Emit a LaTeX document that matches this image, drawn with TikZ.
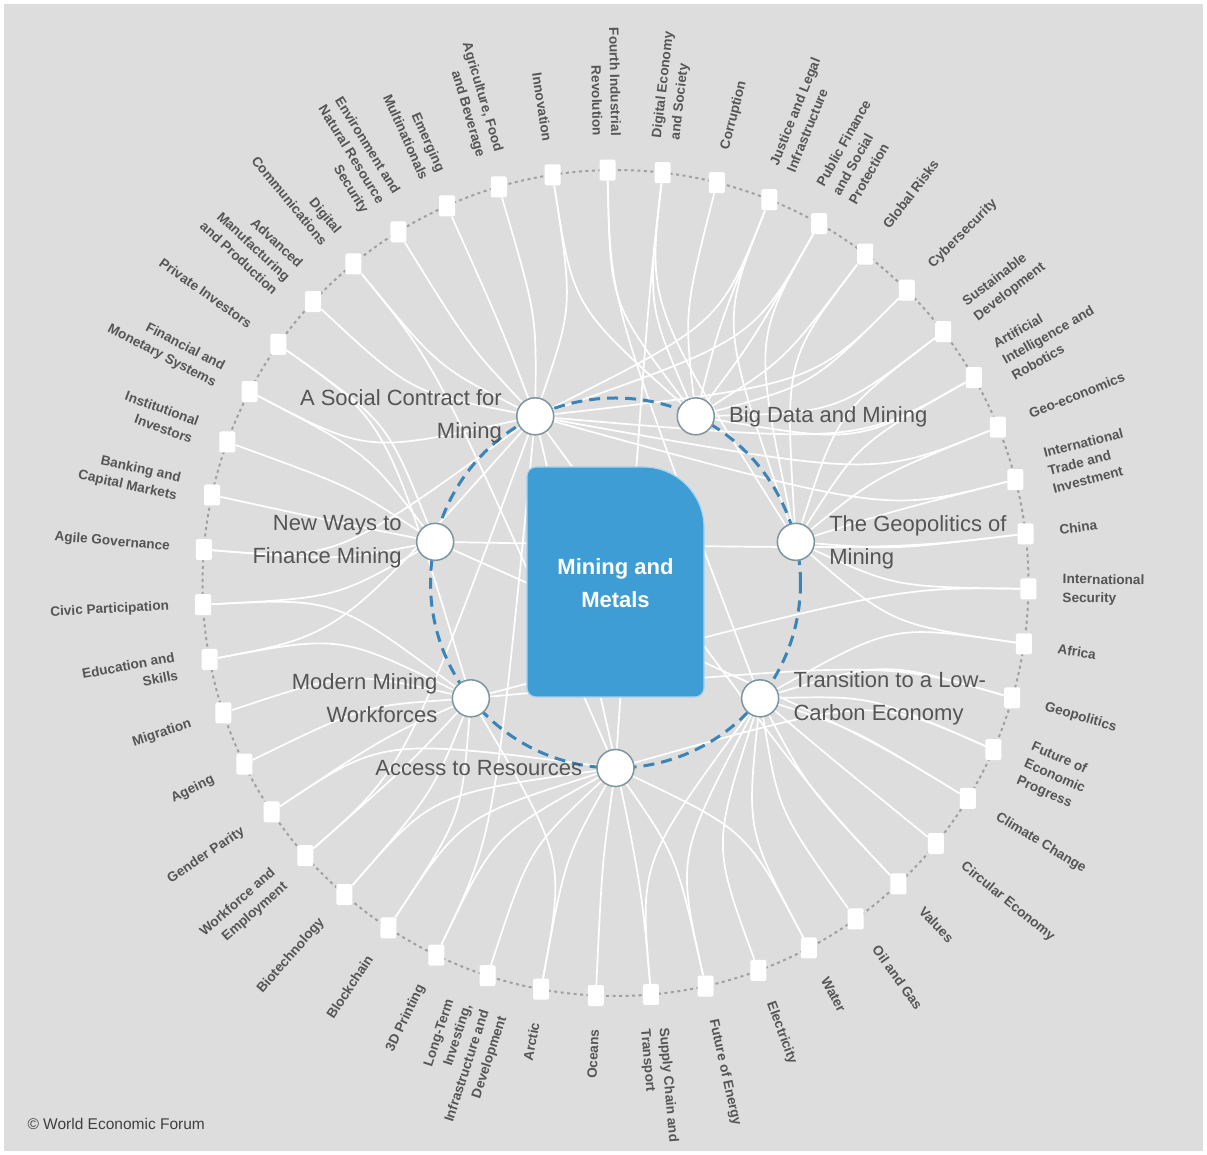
\documentclass[tikz,border=0pt]{standalone}
\usepackage{fontspec}
\setmainfont{Liberation Sans}
\usetikzlibrary{positioning}

\definecolor{paper}{RGB}{221,221,221}
\definecolor{ink}{RGB}{85,85,85}
\definecolor{rimgray}{RGB}{125,150,158}
\definecolor{ringblue}{RGB}{58,132,184}
\definecolor{boxblue}{RGB}{62,157,213}
\definecolor{dotgray}{RGB}{160,160,160}

\pgfdeclarelayer{back}
\pgfdeclarelayer{links}
\pgfsetlayers{back,links,main}

\tikzset{
  topic/.style={fill=white, minimum width=16pt, minimum height=21pt, inner sep=0pt, rounded corners=2pt},
  topiclabel/.style={font=\bfseries\fontsize{13.6}{18.5}\selectfont, text=ink, inner sep=1pt},
  hub/.style={circle, fill=white, draw=rimgray, line width=1.5pt, minimum size=37pt, inner sep=0pt},
  hublabel/.style={font=\fontsize{22}{33}\selectfont, text=ink, inner sep=0pt},
  link/.style={white, line width=1.7pt},
}

\begin{document}
\begin{tikzpicture}[x=1pt, y=1pt]
  % page, frame and the outer dotted ring
  \begin{pgfonlayer}{back}
    \fill[white] (-615.5,-572) rectangle (591.5,583);
    \fill[paper] (-611.5,-568) rectangle (587.5,579);
    \draw[dotgray, line width=2pt, dash pattern=on 3pt off 3.5pt] (0,0) circle (413);
  \end{pgfonlayer}
  \useasboundingbox (-615.5,-572) rectangle (591.5,583);

  % key issues on the inner ring
  \draw[ringblue, line width=3pt, dash pattern=on 11pt off 7pt] (0,0) circle (185);
  \foreach \name [count=\k from 0] in {ar,lc,geo,bd,sc,fin,wf}
    \node[hub] (\name) at (-90+\k*51.4286:185) {};

  \node[hublabel, left=14pt of sc, align=right] (scl) {A Social Contract for\\Mining};
  \node[hublabel, right=14pt of bd] (bdl) {Big Data and Mining};
  \node[hublabel, right=14pt of geo, align=left] (geol) {The Geopolitics of\\Mining};
  \node[hublabel, right=14pt of lc, align=left] (lcl) {Transition to a Low-\\Carbon Economy};
  \node[hublabel, left=14pt of ar] (arl) {Access to Resources};
  \node[hublabel, left=14pt of wf, align=right] (wfl) {Modern Mining\\Workforces};
  \node[hublabel, left=14pt of fin, align=right] (finl) {New Ways to\\Finance Mining};

  % industry block in the middle
  \fill[boxblue, draw=boxblue!45!white, line width=1.2pt]
    (-88.5,-105) -- (-88.5,107) arc (180:90:9) -- (28,116) arc (90:0:60.5)
    -- (88.5,-105) arc (0:-90:9) -- (-79.5,-114) arc (270:180:9) -- cycle;
  \node[font=\bfseries\fontsize{22}{33}\selectfont, text=white, align=center] (core) at (0,0) {Mining and\\Metals};

  % outer topics, clockwise from the top
  \foreach \txt [count=\i from 0] in {
    {Fourth Industrial\\Revolution}, {Digital Economy\\and Society}, {Corruption},
    {Justice and Legal\\Infrastructure}, {Public Finance\\and Social\\Protection},
    {Global Risks}, {Cybersecurity}, {Sustainable\\Development},
    {Artificial\\Intelligence and\\Robotics}, {Geo-economics},
    {International\\Trade and\\Investment}, {China}, {International\\Security},
    {Africa}, {Geopolitics}, {Future of\\Economic\\Progress}, {Climate Change},
    {Circular Economy}, {Values}, {Oil and Gas}, {Water}, {Electricity},
    {Future of Energy}, {Supply Chain and\\Transport}, {Oceans}, {Arctic},
    {Long-Term\\Investing,\\Infrastructure and\\Development}, {3D Printing},
    {Blockchain}, {Biotechnology}, {Workforce and\\Employment}, {Gender Parity},
    {Ageing}, {Migration}, {Education and\\Skills}, {Civic Participation},
    {Agile Governance}, {Banking and\\Capital Markets}, {Institutional\\Investors},
    {Financial and\\Monetary Systems}, {Private Investors},
    {Advanced\\Manufacturing\\and Production}, {Digital\\Communications},
    {Environment and\\Natural Resource\\Security}, {Emerging\\Multinationals},
    {Agriculture, Food\\and Beverage}, {Innovation}}{
    \pgfmathsetmacro\a{91.1-\i*7.65957}
    \pgfmathsetmacro\b{\a+180}
    \pgfmathtruncatemacro\east{cos(\a)>0}
    \node[topic] (q\i) at (\a:413) {};
    \ifnum\east=1
      \node[topiclabel, rotate=\a, anchor=west, align=left] (t\i) at (\a:446) {\txt};
    \else
      \node[topiclabel, rotate=\b, anchor=east, align=right] (t\i) at (\a:446) {\txt};
    \fi
  }

  % links from the key issues out to the topics
  \begin{pgfonlayer}{links}
    \foreach \i/\h in {0/bd,0/lc,1/bd,1/geo,1/ar,2/bd,3/sc,3/bd,3/geo,4/sc,4/bd,4/geo,
      5/bd,5/geo,6/bd,6/sc,7/bd,7/geo,8/bd,8/geo,8/sc,9/geo,9/sc,10/geo,10/sc,
      11/geo,11/fin,12/geo,12/wf,13/geo,13/lc,14/lc,14/wf,15/lc,15/ar,16/lc,16/fin,
      17/lc,18/lc,18/sc,19/lc,20/lc,20/ar,21/lc,22/lc,22/ar,23/lc,23/sc,24/ar,
      25/ar,25/wf,26/ar,27/ar,27/sc,28/ar,28/wf,29/ar,29/wf,30/wf,30/sc,31/wf,31/ar,
      32/wf,33/wf,34/wf,34/sc,35/fin,35/wf,36/fin,36/sc,37/fin,38/fin,39/fin,39/sc,
      40/fin,40/wf,41/sc,42/sc,42/ar,43/sc,44/sc,45/sc,46/sc,46/bd}{
      \pgfmathsetmacro\a{91.1-\i*7.65957}
      \draw[link] (\h) .. controls (\a:280) .. (q\i);
    }
  \end{pgfonlayer}

  \node[font=\fontsize{15.5}{18}\selectfont, text=black!75, anchor=west] (credit) at (-591.5,-541) {© World Economic Forum};
\end{tikzpicture}
\end{document}
